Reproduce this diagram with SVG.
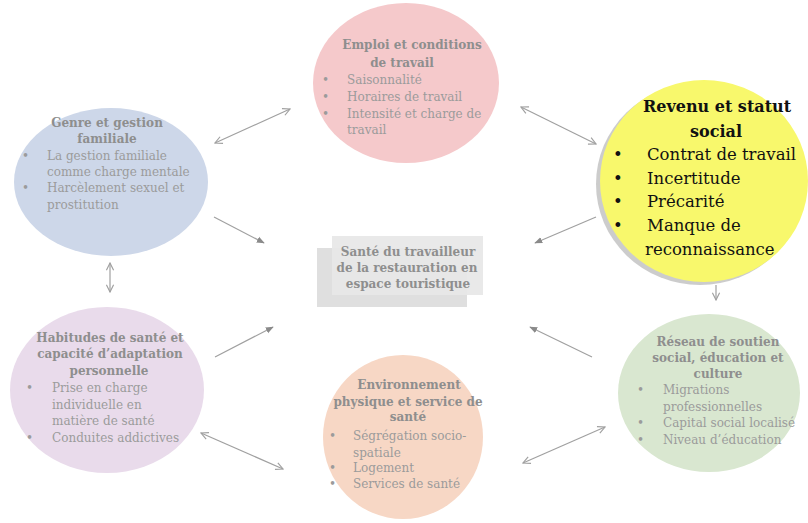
<svg xmlns="http://www.w3.org/2000/svg" width="808" height="523" viewBox="0 0 808 523">
<style>
  .t { font-family: "DejaVu Serif", "Liberation Serif", serif; font-size: 12px; fill: #9b9b9b; }
  .h { font-family: "DejaVu Serif", "Liberation Serif", serif; font-size: 12px; font-weight: bold; fill: #8e8e8e; text-anchor: middle; }
  .yt { font-family: "DejaVu Serif", "Liberation Serif", serif; font-size: 16.5px; fill: #111; }
  .yh { font-family: "DejaVu Serif", "Liberation Serif", serif; font-size: 16px; font-weight: bold; fill: #111; text-anchor: middle; }
  .c { fill: none; stroke: #a0a0a0; stroke-width: 1.2; }
</style>
<defs>
  <marker id="open" viewBox="0 0 10 10" refX="9" refY="5" markerWidth="9" markerHeight="9" markerUnits="userSpaceOnUse" orient="auto-start-reverse">
    <path d="M1,1 L9,5 L1,9" fill="none" stroke="#a0a0a0" stroke-width="1.3"/>
  </marker>
  <marker id="fill" viewBox="0 0 10 10" refX="9" refY="5" markerWidth="8" markerHeight="8" markerUnits="userSpaceOnUse" orient="auto">
    <path d="M0,1 L10,5 L0,9 Z" fill="#8a8a8a"/>
  </marker>
</defs>
<rect width="808" height="523" fill="#ffffff"/>

<g id="connectors">
  <line class="c" x1="215" y1="143" x2="290" y2="109" marker-start="url(#open)" marker-end="url(#open)"/>
  <line class="c" x1="521" y1="107" x2="596" y2="144" marker-start="url(#open)" marker-end="url(#open)"/>
  <line class="c" x1="201" y1="433" x2="283" y2="469" marker-start="url(#open)" marker-end="url(#open)"/>
  <line class="c" x1="523" y1="463" x2="605" y2="427" marker-start="url(#open)" marker-end="url(#open)"/>
  <line class="c" x1="110" y1="263" x2="110" y2="292" marker-start="url(#open)" marker-end="url(#open)"/>
  <line class="c" x1="214" y1="217" x2="264" y2="243" marker-end="url(#fill)"/>
  <line class="c" x1="215" y1="357" x2="273" y2="327" marker-end="url(#fill)"/>
  <line class="c" x1="596" y1="217" x2="535" y2="243" marker-end="url(#fill)"/>
  <line class="c" x1="592" y1="357" x2="530" y2="327" marker-end="url(#fill)"/>
  <line class="c" x1="716" y1="285" x2="716" y2="300" marker-end="url(#open)"/>
</g>

<g id="center">
  <rect x="317" y="248" width="150" height="59" fill="#dfdfdf"/>
  <rect x="332" y="236" width="151" height="59" fill="#e7e7e7" fill-opacity="0.92"/>
  <text class="h" x="408" y="256" font-size="11.5">Santé du travailleur</text>
  <text class="h" x="407" y="272" font-size="11.5">de la restauration en</text>
  <text class="h" x="408" y="288" font-size="11.5">espace touristique</text>
</g>

<g id="emploi">
  <ellipse cx="406" cy="83" rx="93" ry="80" fill="#f5c9cb"/>
  <text class="h" x="412" y="49">Emploi et conditions</text>
  <text class="h" x="402" y="67">de travail</text>
  <text class="t" x="322" y="84">•</text><text class="t" x="347" y="84">Saisonnalité</text>
  <text class="t" x="322" y="101">•</text><text class="t" x="347" y="101">Horaires de travail</text>
  <text class="t" x="322" y="118">•</text><text class="t" x="347" y="118">Intensité et charge de</text>
  <text class="t" x="347" y="134">travail</text>
</g>

<g id="genre">
  <ellipse cx="111" cy="182" rx="97" ry="74" fill="#cdd7e9"/>
  <text class="h" x="107" y="127">Genre et gestion</text>
  <text class="h" x="107" y="143">familiale</text>
  <text class="t" x="22" y="160">•</text><text class="t" x="47" y="160">La gestion familiale</text>
  <text class="t" x="47" y="176">comme charge mentale</text>
  <text class="t" x="22" y="192">•</text><text class="t" x="47" y="192">Harcèlement sexuel et</text>
  <text class="t" x="47" y="209">prostitution</text>
</g>

<g id="revenu">
  <ellipse cx="700" cy="184" rx="104" ry="101" fill="#9a9a9a" fill-opacity="0.5"/>
  <ellipse cx="704" cy="181" rx="104" ry="101" fill="#f8f86c"/>
  <text class="yh" x="717" y="112">Revenu et statut</text>
  <text class="yh" x="716" y="137">social</text>
  <text class="yt" x="613" y="160">•</text><text class="yt" x="647" y="160">Contrat de travail</text>
  <text class="yt" x="613" y="184">•</text><text class="yt" x="647" y="184">Incertitude</text>
  <text class="yt" x="613" y="207">•</text><text class="yt" x="647" y="207">Précarité</text>
  <text class="yt" x="613" y="231">•</text><text class="yt" x="647" y="231">Manque de</text>
  <text class="yt" x="645" y="255">reconnaissance</text>
</g>

<g id="habitudes">
  <ellipse cx="107" cy="390" rx="97" ry="83" fill="#e9dbeb"/>
  <text class="h" x="110" y="342">Habitudes de santé et</text>
  <text class="h" x="110" y="358">capacité d’adaptation</text>
  <text class="h" x="109" y="375">personnelle</text>
  <text class="t" x="26" y="392">•</text><text class="t" x="52" y="392">Prise en charge</text>
  <text class="t" x="52" y="409">individuelle en</text>
  <text class="t" x="52" y="425">matière de santé</text>
  <text class="t" x="26" y="442">•</text><text class="t" x="52" y="442">Conduites addictives</text>
</g>

<g id="environnement">
  <ellipse cx="403" cy="437" rx="80" ry="82" fill="#f7d7c5"/>
  <text class="h" x="409" y="389">Environnement</text>
  <text class="h" x="408" y="406">physique et service de</text>
  <text class="h" x="408" y="421">santé</text>
  <text class="t" x="329" y="440">•</text><text class="t" x="353" y="440">Ségrégation socio-</text>
  <text class="t" x="353" y="457">spatiale</text>
  <text class="t" x="329" y="472">•</text><text class="t" x="353" y="472">Logement</text>
  <text class="t" x="329" y="488">•</text><text class="t" x="353" y="488">Services de santé</text>
</g>

<g id="reseau">
  <ellipse cx="709" cy="393" rx="91" ry="79" fill="#d9e7d0"/>
  <text class="h" x="718" y="346">Réseau de soutien</text>
  <text class="h" x="718" y="362">social, éducation et</text>
  <text class="h" x="718" y="378">culture</text>
  <text class="t" x="637" y="394">•</text><text class="t" x="663" y="394">Migrations</text>
  <text class="t" x="663" y="411">professionnelles</text>
  <text class="t" x="637" y="427">•</text><text class="t" x="663" y="427">Capital social localisé</text>
  <text class="t" x="637" y="444">•</text><text class="t" x="663" y="444">Niveau d’éducation</text>
</g>
</svg>
